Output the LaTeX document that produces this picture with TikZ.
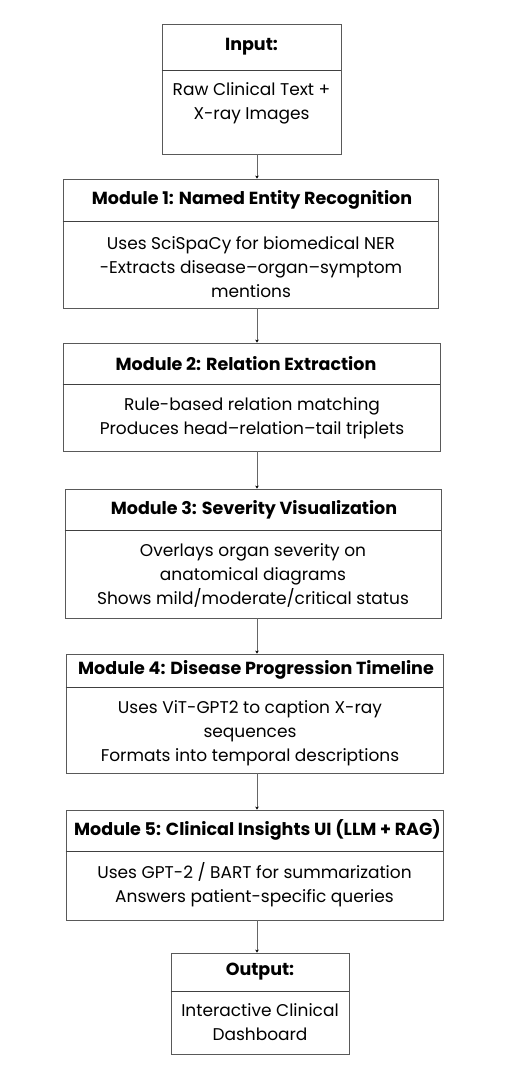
\documentclass[tikz,border=0pt]{standalone}
\usepackage{fontspec}
\setmainfont{Poppins}
\usetikzlibrary{arrows.meta, positioning, calc}

\begin{document}
\begin{tikzpicture}[
    x=1pt, y=-1pt,
    stagebox/.style = {rectangle, draw=black!65, line width=0.9pt, inner sep=0pt},
    divider/.style = {draw=black!75, line width=0.9pt},
    heading/.style = {font=\fontsize{17.5}{20}\selectfont\bfseries, inner sep=0pt},
    detail/.style = {font=\fontsize{17}{24}\selectfont, align=center, inner sep=0pt},
    flow/.style = {draw=black!60, line width=1pt, -{Stealth[length=3pt, width=3.5pt, black]}}
]

% Page frame
\useasboundingbox (0,0) rectangle (504,1080);
\coordinate (axis) at (257,0);

% Input
\node (input) [stagebox, minimum width=179pt, minimum height=130pt] at (251.5,89) {};
\draw [divider] (input.west |- 0,70) -- (input.east |- 0,70);
\node (input_t) [heading] at (251.5,47) {Input:};
\node (input_b) [detail] at (251.5,103) {Raw Clinical Text +\\X-ray Images};

% Module 1
\node (ner) [stagebox, minimum width=375pt, minimum height=129pt] at (250.5,243.5) {};
\draw [divider] (ner.west |- 0,221) -- (ner.east |- 0,221);
\node (ner_t) [heading] at (252,200) {Module 1: Named Entity Recognition};
\node (ner_b) [detail] at (251,267) {Uses SciSpaCy for biomedical NER\\-Extracts disease--organ--symptom\\mentions};

% Module 2
\node (rel) [stagebox, minimum width=377pt, minimum height=108pt] at (251.5,397) {};
\draw [divider] (rel.west |- 0,384) -- (rel.east |- 0,384);
\node (rel_t) [heading] at (246,364) {Module 2: Relation Extraction};
\node (rel_b) [detail] at (252,418.5) {Rule-based relation matching\\Produces head--relation--tail triplets};

% Module 3
\node (sev) [stagebox, minimum width=376pt, minimum height=129pt] at (253,553.5) {};
\draw [divider] (sev.west |- 0,530) -- (sev.east |- 0,530);
\node (sev_t) [heading] at (254,510) {Module 3: Severity Visualization};
\node (sev_b) [detail] at (253,575) {Overlays organ severity on\\anatomical diagrams\\Shows mild/moderate/critical status};

% Module 4
\node (prog) [stagebox, minimum width=377pt, minimum height=119pt] at (254.5,713.5) {};
\draw [divider] (prog.west |- 0,687) -- (prog.east |- 0,687);
\node (prog_t) [heading] at (256,670) {Module 4: Disease Progression Timeline};
\node (prog_b) [detail] at (250,733) {Uses ViT-GPT2 to caption X-ray\\sequences\\Formats into temporal descriptions};

% Module 5
\node (ui) [stagebox, minimum width=377pt, minimum height=110pt] at (254.5,865) {};
\draw [divider] (ui.west |- 0,851) -- (ui.east |- 0,851);
\node (ui_t) [heading] at (257.5,830) {Module 5: Clinical Insights UI (LLM + RAG)};
\node (ui_b) [detail] at (254.5,885) {Uses GPT-2 / BART for summarization\\Answers patient-specific queries};

% Output
\node (output) [stagebox, minimum width=178pt, minimum height=101pt] at (260,1003.5) {};
\draw [divider] (output.west |- 0,991) -- (output.east |- 0,991);
\node (output_t) [heading] at (260,972) {Output:};
\node (output_b) [detail] at (260,1022.5) {Interactive Clinical\\Dashboard};

% Connections
\draw [flow] (input.south -| axis) -- (ner.north -| axis);
\draw [flow] (ner.south -| axis) -- (rel.north -| axis);
\draw [flow] (rel.south -| axis) -- (sev.north -| axis);
\draw [flow] (sev.south -| axis) -- (prog.north -| axis);
\draw [flow] (prog.south -| axis) -- (ui.north -| axis);
\draw [flow] (ui.south -| axis) -- (output.north -| axis);

\end{tikzpicture}
\end{document}
